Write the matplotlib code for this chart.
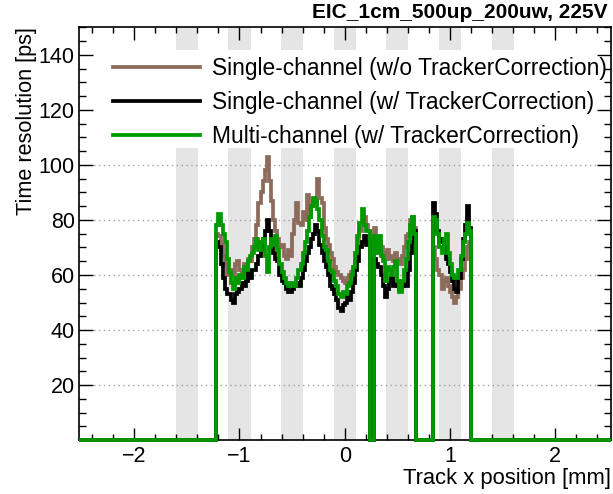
import numpy as np
import matplotlib
matplotlib.use("Agg")
import matplotlib.pyplot as plt
from matplotlib.patches import Rectangle
from matplotlib.ticker import MultipleLocator

plt.rcParams['font.family'] = ['Liberation Sans', 'DejaVu Sans']

# ---------------- data ----------------
bin_start = -1.22
bin_width = 0.02
x_range = (-2.525, 2.53)

# Single-channel (w/o TrackerCorrection)
brown_vals = [
    75, 74, 71, 67, 64, 60, 61, 62, 60, 64,
    65, 62, 60, 64, 63, 66, 65, 70, 73, 78,
    86, 90, 94, 98, 103, 94, 87, 80, 76, 73,
    70, 71, 67, 66, 69, 67, 75, 80, 86, 79,
    78, 83, 80, 89, 81, 85, 87, 86, 95, 88,
    86, 77, 73, 71, 68, 66, 63, 61, 60, 59,
    58, 57, 59, 60, 61, 62, 65, 70, 76, 79,
    81, 78, 76, 0, 0, 77, 74, 72, 70, 68,
    66, 69, 66, 67, 65, 68, 66, 64, 67, 70,
    74, 75, 80, 81, 77, 0, 0, 0, 0, 0,
    0, 0, 0, 70, 66, 62, 60, 55, 58, 59,
    56, 54, 52, 50, 52, 55, 59, 62, 66, 70,
    72,
]

# Single-channel (w/ TrackerCorrection)
black_vals = [
    72, 70, 64, 59, 55, 53, 53, 51, 50, 53,
    54, 55, 57, 56, 58, 61, 59, 62, 62, 64,
    67, 69, 73, 76, 80, 76, 70, 68, 66, 65,
    60, 58, 57, 55, 54, 54, 55, 56, 57, 56,
    59, 62, 65, 68, 70, 73, 75, 78, 76, 71,
    68, 65, 63, 60, 56, 55, 53, 51, 48, 47,
    49, 50, 52, 51, 54, 57, 62, 65, 70, 72,
    74, 71, 72, 0, 0, 66, 64, 63, 60, 56,
    52, 55, 57, 59, 56, 57, 56, 55, 56, 57,
    56, 62, 68, 72, 76, 0, 0, 0, 0, 0,
    0, 0, 0, 86, 82, 76, 72, 73, 70, 66,
    64, 61, 58, 55, 54, 59, 66, 73, 78, 85,
    77,
]

# Multi-channel (w/ TrackerCorrection)
green_vals = [
    78, 82, 78, 75, 72, 66, 61, 57, 55, 59,
    57, 60, 59, 63, 62, 65, 67, 68, 70, 73,
    69, 72, 73, 67, 61, 70, 73, 71, 74, 69,
    64, 61, 59, 57, 56, 57, 57, 56, 59, 62,
    64, 68, 72, 76, 81, 85, 88, 87, 84, 80,
    74, 70, 69, 65, 62, 61, 58, 56, 53, 52,
    54, 53, 56, 57, 60, 63, 68, 74, 79, 84,
    78, 76, 76, 0, 0, 74, 68, 74, 67, 65,
    58, 63, 62, 60, 63, 65, 58, 54, 58, 62,
    66, 72, 78, 81, 75, 0, 0, 0, 0, 0,
    0, 0, 0, 81, 80, 75, 70, 68, 73, 75,
    68, 64, 60, 59, 59, 62, 67, 72, 75, 79,
    76,
]

band_centers = [-1.5, -1.0, -0.5, 0.0, 0.5, 1.0, 1.5]
band_width = 0.21

labels = [
    "Single-channel (w/o TrackerCorrection)",
    "Single-channel (w/ TrackerCorrection)",
    "Multi-channel (w/ TrackerCorrection)",
]
colors = ["#8c6b5b", "#000000", "#009a00"]
title = "EIC_1cm_500up_200uw, 225V"
xlabel = "Track x position [mm]"
ylabel = "Time resolution [ps]"

# ---------------- figure ----------------
fig = plt.figure(figsize=(6.13, 4.94), dpi=100)
ax = fig.add_axes([79 / 613, 54 / 494, 532 / 613, 412.5 / 494])

n = len(green_vals)
inner_edges = bin_start + bin_width * np.arange(n + 1)
edges = np.concatenate([[x_range[0]], inner_edges, [x_range[1]]])

for c in band_centers:
    ax.axvspan(c - band_width / 2, c + band_width / 2, color="#e5e5e5",
               lw=0, zorder=0.2)

for yv in range(20, 150, 20):
    ax.axhline(yv, color="#a0a0a0", lw=1.0, ls=(0, (1, 2.5)), zorder=0.5)

# legend background (white box)
ax.add_patch(Rectangle((0.0, 0.708), 1.0, 0.237, transform=ax.transAxes,
                       facecolor="white", edgecolor="none", zorder=0.8))

handles = []
for vals, col, lab in zip([brown_vals, black_vals, green_vals], colors, labels):
    v = np.concatenate([[0], vals, [0]])
    h = ax.stairs(v, edges, baseline=None, color=col, lw=2.7, label=lab,
                  zorder=3, clip_on=False)
    handles.append(h)

ax.set_xlim(*x_range)
ax.set_ylim(0, 150)

ax.xaxis.set_major_locator(MultipleLocator(1))
ax.xaxis.set_minor_locator(MultipleLocator(0.2))
ax.yaxis.set_major_locator(MultipleLocator(20))
ax.yaxis.set_minor_locator(MultipleLocator(5))
ax.set_yticks([20, 40, 60, 80, 100, 120, 140])
ax.set_xticks([-2, -1, 0, 1, 2])
ax.set_xticklabels(["\u22122", "\u22121", "0", "1", "2"])

ax.tick_params(axis="both", which="both", direction="in", top=True,
               right=True, width=1.0, labelsize=15.5)
ax.tick_params(axis="x", which="major", length=9, pad=4)
ax.tick_params(axis="x", which="minor", length=4.5)
ax.tick_params(axis="y", which="major", length=10, pad=3)
ax.tick_params(axis="y", which="minor", length=5)
for s in ax.spines.values():
    s.set_linewidth(1.2)
    s.set_zorder(2.6)

ax.set_xlabel(xlabel, fontsize=15.8, loc="right", labelpad=1)
ax.set_ylabel(ylabel, fontsize=15.6, loc="top", labelpad=1.5)

fig.text(607 / 613, 1 - 12 / 494, title, fontsize=15, fontweight="bold",
         ha="right", va="center")

ax.legend(handles=handles, labels=labels, loc="upper left",
          bbox_to_anchor=(0.064, 0.928), frameon=False, fontsize=16.4,
          handlelength=3.8, handletextpad=0.53, labelspacing=0.48,
          borderpad=0, borderaxespad=0)

fig.savefig("out.png", dpi=100)
